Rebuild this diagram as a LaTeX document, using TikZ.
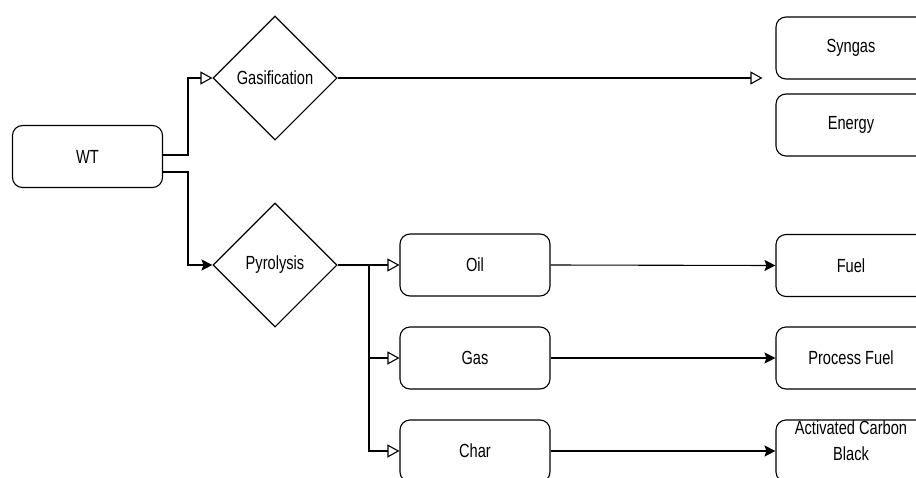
\documentclass[tikz,border=0pt]{standalone}
\usepackage{fontspec}
\setmainfont{Liberation Sans}[FakeStretch=0.77]
\usetikzlibrary{shapes.geometric,arrows.meta,calc}
\begin{document}
\begin{tikzpicture}[x=1pt,y=-1pt,
  every node/.style={font=\fontsize{19}{26}\selectfont},
  box/.style={draw, line width=1.1pt, rounded corners=10pt, minimum width=150pt, minimum height=62pt, inner sep=0pt, align=center},
  dia/.style={draw, line width=1.1pt, diamond, minimum width=124pt, minimum height=124pt, inner sep=0pt},
  conn/.style={line width=1.1pt},
  openarr/.style={conn, -{Triangle[open, length=12pt, width=13pt, line width=1.1pt]}},
  fillarr/.style={conn, -{Stealth[length=11pt, width=11pt, inset=2pt]}}]
\useasboundingbox (0,0) rectangle (916,477);
\clip (0,0) rectangle (916,477);
\node[box] (wt) at (87.5,156.5) {WT};
\node[dia] (gas) at (275,78) {Gasification};
\node[dia] (pyr) at (275,265) {Pyrolysis};
\node[box] (syn) at (851,48) {Syngas};
\node[box] (ene) at (851,125) {Energy};
\node[box] (oil) at (475,265) {Oil};
\node[box] (gs) at (475,358) {Gas};
\node[box] (chr) at (475,451) {Char};
\node[box] (fuel) at (851,265.5) {Fuel};
\node[box] (pf) at (851,358) {Process Fuel};
\node[box, text depth=20pt] (acb) at (851,451) {Activated Carbon\\Black};
\coordinate (synin) at ($(syn.west)+(-13,30)$);
\coordinate (wtA) at ($(wt.east)+(0,-1.5)$);
\coordinate (wtB) at ($(wt.east)+(0,15.5)$);
\coordinate (trunk) at (369,265);
\draw[openarr] (wtA) -| (188,78) -- (gas.west);
\draw[fillarr] (wtB) -| (188,265) -- (pyr.west);
\draw[openarr] (gas.east) -- (synin);
\draw[openarr] (pyr.east) -- (oil.west);
\draw[openarr] (trunk) |- (gs.west);
\draw[openarr] (trunk) |- (chr.west);
\draw[fillarr] (oil.east) -- (fuel.west);
\draw[fillarr] (gs.east) -- (pf.west);
\draw[fillarr] (chr.east) -- (acb.west);
\end{tikzpicture}
\end{document}
